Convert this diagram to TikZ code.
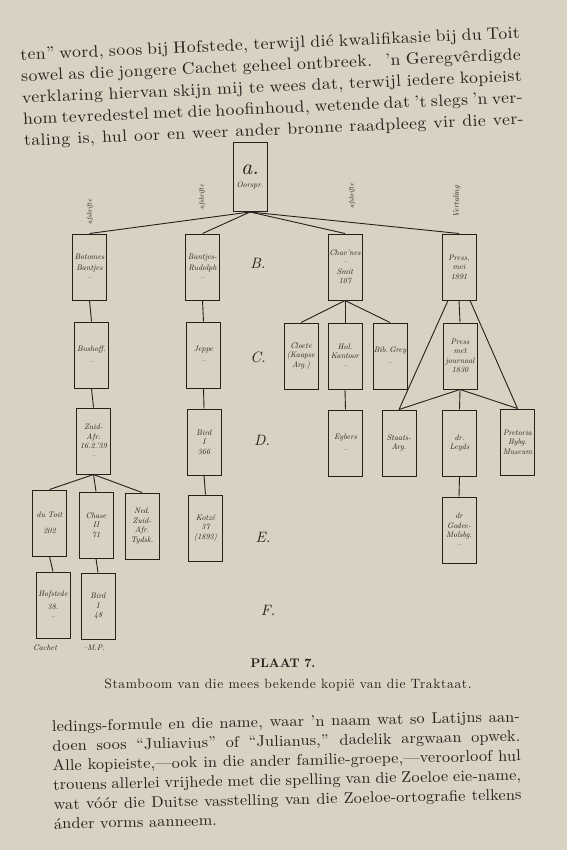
\documentclass[tikz,border=0pt]{standalone}
\usepackage{fontspec}
\setmainfont{lmroman10}[Extension=.otf, UprightFont=*-regular, BoldFont=*-bold, ItalicFont=*-italic, BoldItalicFont=*-bolditalic]
\definecolor{paper}{RGB}{216,210,194}
\definecolor{ink}{RGB}{36,32,28}
\newcommand\hand{\itshape\fontsize{8}{9.5}\selectfont}
\newcommand\fullline[1]{\noindent\hbox to\hsize{\spaceskip=0pt\xspaceskip=0pt #1}\par}
\begin{document}
\begin{tikzpicture}[x=1pt, y=-1pt, color=ink,
    box/.style={draw, line width=1pt, minimum width=34, minimum height=66, inner sep=0.5pt, align=center, font=\hand},
    gen/.style={font=\itshape\fontsize{15}{15}\selectfont},
    side/.style={rotate=90, font=\itshape\fontsize{7}{7}\selectfont},
    link/.style={line width=0.9pt}]
    % Page
    \fill[paper] (0,0) rectangle (567,850);
    \useasboundingbox (0,0) rectangle (567,850);
    % Text above
    \node[rotate=2.5, text width=500pt, align=justify, font=\fontsize{16.5}{21.5}\selectfont\addfontfeatures{FakeStretch=1.07,LetterSpace=2.5}] (top) at (272,88) {%
        \fullline{ten'' word, soos bij Hofstede, terwijl dié kwalifikasie bij du Toit}
        \fullline{sowel as die jongere Cachet geheel ontbreek. \ 'n Geregvêrdigde}
        \fullline{verklaring hiervan skijn mij te wees dat, terwijl iedere kopieist}
        \fullline{hom tevredestel met die hoofinhoud, wetende dat 't slegs 'n ver-}
        \fullline{taling is, hul oor en weer ander bronne raadpleeg vir die ver-}};
    % Root
    \node[box, minimum height=69] (A) at (250,177) {{\fontsize{22}{22}\selectfont a.}\\[3pt] Oorspr.};
    % Row B
    \node[box] (b1) at (89.5,267) {Botomes\\[2pt] Bantjes\\ --};
    \node[box] (b2) at (202.5,267) {Bantjes-\\[2pt] Rudolph\\ --};
    \node[box] (b3) at (345,267) {Chav'nes\\ --\\ Smit\\ 107};
    \node[box] (b4) at (459,267) {Press,\\ mei\\ 1891};
    \node[side] (v1) at (90,212) {afskrifte};
    \node[side] (v2) at (202,197) {afskrifte};
    \node[side] (v3) at (352,196) {afskrifte};
    \node[side, font=\itshape\fontsize{8}{8}\selectfont] (v4) at (457,202) {Vertaling};
    \node[gen] (gB) at (258,263) {B.};
    % Row C
    \node[box] (c1) at (91.5,355) {Boshoff.\\[3pt] --};
    \node[box] (c2) at (203.5,355) {Jeppe\\[3pt] --};
    \node[box] (c3) at (301,356) {Cloete\\ (Kaapse\\ Arg.)};
    \node[box] (c4) at (345,356) {Hol.\\ Kantoor\\ --};
    \node[box] (c5) at (390,356) {Bib.\,Grey\\[3pt] --};
    \node[box] (c6) at (460,356) {Press\\ met\\ journaal\\ 1830};
    \node[gen] (gC) at (258,357) {C.};
    % Row D
    \node[box] (d1) at (93.5,441) {Zuid-\\ Afr.\\ 16.2.'39\\ --};
    \node[box] (d2) at (204,442) {Bird\\ I\\ 366};
    \node[box] (d3) at (345.5,443) {Eybers\\[3pt] --};
    \node[box] (d4) at (399,443) {Staats-\\ Arg.};
    \node[box] (d5) at (459.5,443) {dr.\\ Leyds};
    \node[box] (d6) at (517.5,442) {Pretoria\\ Bybg.\\ Museum};
    \node[gen] (gD) at (262,440) {D.};
    % Row E
    \node[box] (e1) at (49.5,523) {du Toit\\[6pt] 202};
    \node[box] (e2) at (96,525) {Chase\\ II\\ 71};
    \node[box] (e3) at (142,526) {Ned.\\ Zuid-\\ Afr.\\ Tydsk.};
    \node[box] (e4) at (205.5,528) {Kotzé\\ 37\\ (1893)};
    \node[box] (e5) at (459,530) {dr\\ Godee-\\ Molsbg.\\ --};
    \node[gen] (gE) at (263,537) {E.};
    % Row F
    \node[box] (f1) at (53,605) {Hofstede\\[4pt] 38.\\ --};
    \node[box] (f2) at (98,606) {Bird\\ I\\ 48};
    \node[gen] (gF) at (268,610) {F.};
    \node[font=\hand] (cachet) at (45,648) {Cachet};
    \node[font=\hand] (mp) at (94,648) {--M.P.};
    % Links
    \foreach \n in {b1,b2,b3,b4} \draw[link] (A.south) -- (\n.north);
    \foreach \u/\v in {b1/c1,b2/c2,b4/c6,c1/d1,c2/d2,c4/d3,d2/e4,d5/e5,e1/f1,e2/f2}
        \draw[link] (\u.south) -- (\v.north);
    \foreach \n in {c3,c4,c5} \draw[link] (b3.south) -- (\n.north);
    \foreach \n in {d4,d5,d6} \draw[link] (c6.south) -- (\n.north);
    \foreach \n in {e1,e2,e3} \draw[link] (d1.south) -- (\n.north);
    \draw[link] ([xshift=-11]b4.south) -- (d4.north);
    \draw[link] ([xshift=11]b4.south) -- (d6.north);
    % Caption
    \node[font=\bfseries\fontsize{12.5}{12.5}\selectfont] (plaat) at (283,663) {PLAAT 7.};
    \node[font=\fontsize{13.5}{13.5}\selectfont\addfontfeatures{LetterSpace=5}] (title) at (288,685) {Stamboom van die mees bekende kopië van die Traktaat.};
    % Text below
    \node[rotate=1.2, text width=468pt, align=justify, font=\fontsize{15.5}{19.5}\selectfont\addfontfeatures{FakeStretch=1.05,LetterSpace=1}] (bottom) at (287,770) {%
        \fullline{ledings-formule en die name, waar 'n naam wat so Latijns aan-}
        \fullline{doen soos ``Juliavius'' of ``Julianus,'' dadelik argwaan opwek.}
        \fullline{Alle kopieiste,---ook in die ander familie-groepe,---veroorloof hul}
        \fullline{trouens allerlei vrijhede met die spelling van die Zoeloe eie-name,}
        \fullline{wat vóór die Duitse vasstelling van die Zoeloe-ortografie telkens}
        \noindent ánder vorms aanneem.\par};
\end{tikzpicture}
\end{document}
